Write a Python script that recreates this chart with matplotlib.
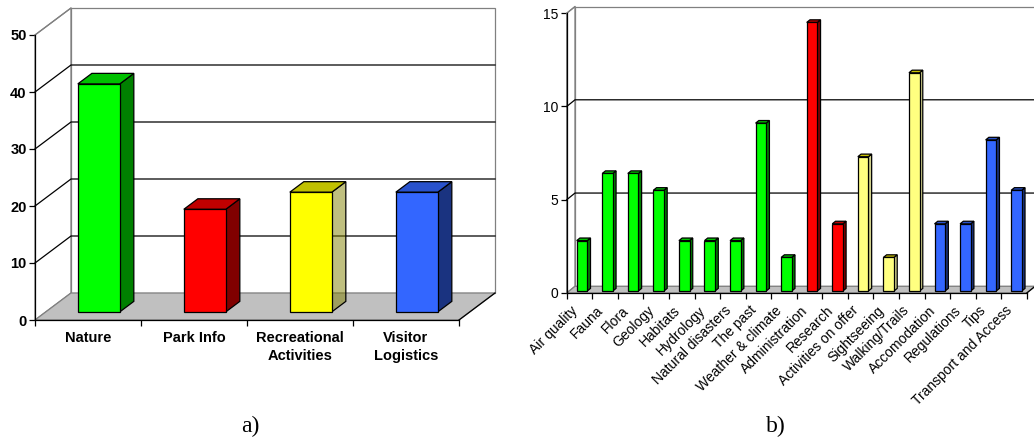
import numpy as np
import matplotlib
matplotlib.use('Agg')
import matplotlib.pyplot as plt
from matplotlib.patches import Polygon
from matplotlib.ticker import FixedLocator
from matplotlib.transforms import ScaledTranslation

# ---- data -----------------------------------------------------------------
cats_a = ['Nature', 'Park Info', 'Recreational\nActivities', 'Visitor\nLogistics']
vals_a = [40, 18, 21, 21]
grp_a = ['nature', 'info', 'rec', 'visit']

cats_b = ['Air quality', 'Fauna', 'Flora', 'Geology', 'Habitats', 'Hydrology',
          'Natural disasters', 'The past', 'Weather & climate', 'Administration',
          'Research', 'Activities on offer', 'Sightseeing', 'Walking/Trails',
          'Accomodation', 'Regulations', 'Tips', 'Transport and Access']
vals_b = [2.7, 6.3, 6.3, 5.4, 2.7, 2.7, 2.7, 9.0, 1.8, 14.4,
          3.6, 7.2, 1.8, 11.7, 3.6, 3.6, 8.1, 5.4]
grp_b = ['nature'] * 9 + ['info'] * 2 + ['rec_l'] * 3 + ['visit'] * 4

yticks_a = [0, 10, 20, 30, 40, 50]
yticks_b = [0, 5, 10, 15]

# face, side, top
pal = {
    'nature': ('#00FF00', '#008000', '#00C000'),
    'info': ('#FF0000', '#800000', '#C00000'),
    'rec': ('#FFFF00', (0.5, 0.5, 0.0, 0.5), '#C0C000'),
    'rec_l': ('#FFFF80', '#D0D08C', '#C8C000'),
    'visit': ('#3366FF', '#1A3380', '#2952CC'),
}

W, H = 1034, 438
fig = plt.figure(figsize=(W / 100, H / 100), dpi=100)


def box(ax, x0, x1, h, d0, d1, ddx, ddy, fc, sc, tc):
    ox, oy = d0 * ddx, d0 * ddy
    bx, by = d1 * ddx, d1 * ddy
    front = [(x0 + ox, oy), (x1 + ox, oy), (x1 + ox, h + oy), (x0 + ox, h + oy)]
    side = [(x1 + ox, oy), (x1 + bx, by), (x1 + bx, h + by), (x1 + ox, h + oy)]
    top = [(x0 + ox, h + oy), (x1 + ox, h + oy), (x1 + bx, h + by), (x0 + bx, h + by)]
    for pts, c in ((side, sc), (top, tc), (front, fc)):
        ax.add_patch(Polygon(pts, closed=True, facecolor=c, edgecolor='black',
                             lw=0.9, zorder=5, joinstyle='miter'))


def chart(ax, cats, vals, grps, yticks, ox_px, oy_px, sx, sy, ddx_px, ddy_px,
          bar_w, bold, fs_y, fs_x, rot):
    ax_w = ax.get_position().width * W
    n = len(cats)
    ymax = yticks[-1]
    ax.set_xlim(-ox_px / sx, (ax_w - ox_px) / sx)
    ax.set_ylim(-(H - oy_px) / sy, oy_px / sy)
    ddx, ddy = ddx_px / sx, ddy_px / sy
    for s in ['top', 'right']:
        ax.spines[s].set_visible(False)
    ax.set_facecolor('none')

    # side wall, back wall, floor
    ax.add_patch(Polygon([(0, 0), (ddx, ddy), (ddx, ymax + ddy), (0, ymax)],
                         facecolor='white', edgecolor='#808080', lw=0.9, zorder=1))
    ax.add_patch(Polygon([(ddx, ddy), (n + ddx, ddy), (n + ddx, ymax + ddy), (ddx, ymax + ddy)],
                         facecolor='white', edgecolor='#808080', lw=0.9, zorder=1))
    for t in yticks[1:-1]:
        ax.plot([0, ddx, n + ddx], [t, t + ddy, t + ddy], color='black', lw=0.9, zorder=2)
    ax.plot([0, ddx], [ymax, ymax + ddy], color='#808080', lw=0.9, zorder=2)
    ax.add_patch(Polygon([(0, 0), (n, 0), (n + ddx, ddy), (ddx, ddy)],
                         facecolor='#C0C0C0', edgecolor='#808080', lw=0.9, zorder=3))
    ax.plot([n, n + ddx], [0, ddy], color='black', lw=0.9, zorder=4)

    for i, (v, g) in enumerate(zip(vals, grps)):
        fc, sc, tc = pal[g]
        box(ax, i + 0.5 - bar_w / 2, i + 0.5 + bar_w / 2, v, 0.3, 0.69,
            ddx, ddy, fc, sc, tc)

    weight = 'bold' if bold else 'normal'
    ax.spines['left'].set_position(('data', 0))
    ax.spines['left'].set_bounds(0, ymax)
    ax.spines['bottom'].set_position(('data', 0))
    ax.spines['bottom'].set_bounds(0, n)
    for s in ['left', 'bottom']:
        ax.spines[s].set_color('black')
        ax.spines[s].set_linewidth(0.9)
        ax.spines[s].set_zorder(6)
    ax.set_yticks(yticks)
    ax.set_yticklabels([str(t) for t in yticks], fontsize=fs_y, fontweight=weight,
                       family='Liberation Sans')
    ax.tick_params(axis='y', direction='out', length=4, width=0.9, pad=2)
    ax.xaxis.set_major_locator(FixedLocator(np.arange(n + 1)))
    ax.xaxis.set_minor_locator(FixedLocator(np.arange(n) + 0.5))
    ax.tick_params(axis='x', which='major', direction='out', length=4, width=0.9,
                   labelbottom=False)
    ax.tick_params(axis='x', which='minor', length=0, pad=8 if rot == 0 else 11)
    ax.set_xticklabels(cats, minor=True, fontsize=fs_x, fontweight=weight,
                       family='Liberation Sans')
    for lab in ax.get_xticklabels(minor=True):
        if rot:
            lab.set_rotation(rot)
            lab.set_ha('right')
            lab.set_va('center')
            lab.set_rotation_mode('anchor')
            lab.set_transform(lab.get_transform() +
                              ScaledTranslation(-3 / 72, 0, fig.dpi_scale_trans))
        else:
            lab.set_linespacing(1.35)


axA = fig.add_axes([0, 0, 517 / W, 1])
chart(axA, cats_a, vals_a, grp_a, yticks_a, 35, 320, 106, 5.7, 36, 27,
      0.396, True, 10.5, 10.5, 0)

axB = fig.add_axes([517 / W, 0, 517 / W, 1])
chart(axB, cats_b, vals_b, grp_b, yticks_b, 49.7, 293, 25.56, 18.65, 8.3, 6.7,
      0.414, False, 10, 10, 45)

fig.text(250 / W, 1 - 426 / H, 'a)', family='Liberation Serif', fontsize=17,
         ha='center', va='center')
fig.text(776 / W, 1 - 426 / H, 'b)', family='Liberation Serif', fontsize=17,
         ha='center', va='center')

fig.savefig('out.png', dpi=100)
